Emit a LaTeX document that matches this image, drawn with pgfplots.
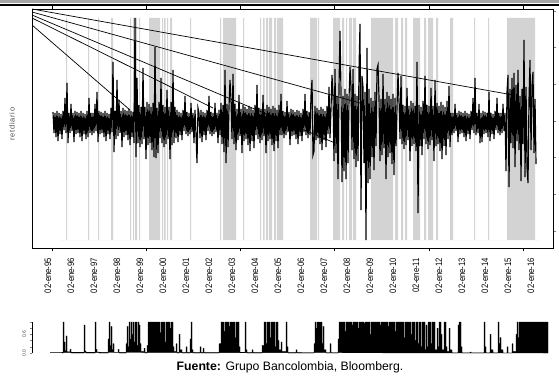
\documentclass[border=0pt]{standalone}
\usepackage{fontspec}
\setmainfont{Liberation Sans}
\newfontfamily\narrowfont[FakeStretch=0.82]{Liberation Sans}
\usepackage{pgfplots}
\pgfplotsset{compat=1.18}
\definecolor{shade}{RGB}{211,211,211}
\definecolor{topband}{RGB}{165,165,165}
\begin{document}
\begin{tikzpicture}[x=1bp,y=1bp]
\useasboundingbox (0,0) rectangle (559,381);
\fill[topband] (0,377.7) rectangle (559,381);
\draw[line width=1.7bp] (0,376.2) -- (559,376.2);
\begin{axis}[
  at={(32bp,133bp)}, anchor=south west, scale only axis,
  width=521bp, height=239bp,
  xmin=32, xmax=553, ymin=-127, ymax=112,
  axis line style={line width=0.8bp},
  clip mode=individual,
  xtick={48,71,...,531},
  xticklabels={02-ene-95,02-ene-96,02-ene-97,02-ene-98,02-ene-99,02-ene-00,02-ene-01,02-ene-02,02-ene-03,02-ene-04,02-ene-05,02-ene-06,02-ene-07,02-ene-08,02-ene-09,02-ene-10,02-ene-11,02-ene-12,02-ene-13,02-ene-14,02-ene-15,02-ene-16},
  xticklabel style={yshift=-3.5bp, rotate=90, anchor=east, font=\narrowfont\fontsize{9.4}{10}\selectfont},
  xtick style={draw=none},
  extra x ticks={52,146.2,240.4,334.6,428.8,523},
  extra x tick labels={,,,,,},
  extra x tick style={xtick style={draw=black, line width=0.6bp}, major tick length=3bp, tick align=outside},
  ytick={-110,-73.3,-36.7,0,36.7,73.3,110},
  yticklabels={,,,,,,},
  ytick pos=right,
  ytick style={line width=0.6bp},
  tick align=outside, major tick length=3bp,
]
\addplot[const plot, fill=shade, draw=none] coordinates {
(60,-119) (66,103) (67,-119) (88,103) (89,-119) (98,103) (99,-119) (111,103) (113,-119)
(130,103) (131,-119) (133,103) (134,-119) (135,103) (137,-119) (139,103) (140,-119)
(149,103) (160,-119) (162,103) (163,-119) (164,103) (165.5,-119) (167,103) (168,-119) (170,103) (172,-119)
(190,103) (191,-119) (220,103) (221,-119) (223,103) (236,-119) (243,103) (244,-119)
(260,103) (261,-119) (263,103) (264.5,-119) (266,103) (268,-119) (269,103) (272,-119) (274,103) (276,-119) (277,103) (283,-119)
(310,103) (317,-119) (318,103) (319,-119) (333,103) (340,-119) (342,103) (344,-119) (346,103) (347,-119) (349,103) (352,-119) (353,103) (356,-119)
(371,103) (393,-119) (395,103) (398,-119) (401,103) (403,-119) (405,103) (407,-119) (413,103) (420,-119)
(424,103) (426,-119) (428,103) (433,-119) (436,103) (438,-119) (450,103) (453,-119) (474,103) (475,-119) (488,103) (489,-119)
(507,103) (535,-119) (540,-119)
} -- cycle;
\addplot[black, line width=1.15bp] coordinates {
(53,9) (54,-12) (55,8) (56,-16) (57,10) (58,-20) (59,8) (60,-13) (61,7) (62,-18) (63,10) (64,-9) (65,23) (66,-12)
(67,38) (68,-22) (69,8) (70,-12) (71,17) (72,-10) (73,8) (74,-21) (75,10) (76,-13)
(77,9) (78,-12) (79,8) (80,-16) (81,10) (82,-20) (83,8) (84,-13) (85,7) (86,-18) (87,10) (88,-16) (89,23) (90,-12)
(91,8) (92,-14) (93,8) (94,-12) (95,17) (96,-10) (97,29) (98,-21) (99,10) (100,-13)
(101,9) (102,-12) (103,8) (104,-16) (105,10) (106,-20) (107,8) (108,-13) (109,7) (110,-18)
(111,13) (112,-11) (113,59) (114,-31) (115,10) (116,-18) (117,41) (118,-15) (119,21) (120,-12) (121,10) (122,-26)
(123,13) (124,-16) (125,11) (126,-14) (127,10) (128,-19) (129,12) (130,-24) (131,10) (132,-16) (133,9) (134,-22)
(135,103) (136,-36) (137,43) (138,-22) (139,16) (140,-26) (141,14) (142,-23) (143,53) (144,-18) (145,14) (146,-38)
(147,19) (148,-24) (149,17) (150,-22) (151,14) (152,-29) (153,18) (154,-36) (155,74) (156,-37) (157,13) (158,-32)
(159,19) (160,-17) (161,43) (162,-22) (163,16) (164,-26) (165,14) (166,-23) (167,31) (168,-18) (169,14) (170,-38)
(171,19) (172,-24) (173,51) (174,-22) (175,14)
(176,-17) (177,11) (178,-21) (179,9) (180,-14) (181,8) (182,-19) (183,11) (184,-10) (185,25) (186,-13) (187,9)
(188,-15) (189,8) (190,-13) (191,18) (192,-11) (193,8) (194,-22) (195,11) (196,-14) (197,-42) (198,13) (199,8)
(200,-17) (201,11) (202,-21) (203,9) (204,-14) (205,8) (206,-19) (207,11) (208,-10) (209,25) (210,-13) (211,9)
(212,-15) (213,8) (214,-13) (215,18) (216,-11) (217,8) (218,-22) (219,11) (220,-14)
(221,18) (222,-23) (223,16) (224,-31) (225,51) (226,-42) (227,17) (228,-26) (229,14) (230,41) (231,21) (232,-18)
(233,47) (234,-23) (235,17) (236,-29)
(237,12) (238,-19) (239,26) (240,-15) (241,12) (242,-32) (243,16) (244,-20) (245,14) (246,-18) (247,12) (248,-24)
(249,15) (250,-30) (251,13) (252,-20) (253,11) (254,-27) (255,16) (256,-14) (257,36) (258,-18) (259,13) (260,-22)
(261,12) (262,-19) (263,26) (264,-15) (265,12) (266,-32) (267,16) (268,-20) (269,14) (270,-18) (271,12) (272,-24)
(273,15) (274,-30) (275,13) (276,-20) (277,11) (278,-27) (279,16) (280,-14)
(281,27) (282,-14) (283,10) (284,-17) (285,9) (286,-14) (287,20) (288,-11) (289,9) (290,-24) (291,12) (292,-15)
(293,11) (294,-14) (295,9) (296,-18) (297,11) (298,-23) (299,10) (300,-15) (301,8) (302,-20) (303,12) (304,-11)
(305,27) (306,-14) (307,10) (308,-17) (309,9) (310,-14)
(311,25) (312,41) (313,-34) (314,-30) (315,15) (316,-19) (317,13) (318,-17) (319,11) (320,-23) (321,14) (322,-29)
(323,12) (324,-19) (325,10) (326,-26) (327,15) (328,-13) (329,34) (330,-17) (331,12) (332,46)
(333,25) (334,-40) (335,52) (336,-32) (337,25) (338,-58) (339,34) (340,90) (341,29) (342,-61) (343,25) (344,-50)
(345,32) (346,-58) (347,27) (348,-42) (349,23) (350,54) (351,34) (352,-29) (353,52) (354,-38) (355,27) (356,-46)
(357,25) (358,-40) (359,52) (360,97) (361,-89) (362,45) (363,34) (364,-42) (365,29) (366,-119) (367,73) (368,-62)
(369,32) (370,-58)
(371,23) (372,-36) (373,20) (374,-49) (375,29) (376,-25) (377,52) (378,56) (379,23) (380,-40) (381,22) (382,-34)
(383,47) (384,-27) (385,22) (386,-58) (387,29) (388,-36) (389,25) (390,-32) (391,22) (392,-43) (393,27) (394,-54)
(395,23)
(396,-25) (397,14) (398,48) (399,20) (400,-18) (401,45) (402,-23) (403,16) (404,-28) (405,15) (406,-24) (407,33)
(408,-19) (409,15) (410,-40) (411,20) (412,-25) (413,18) (414,-23) (415,15) (416,-30) (417,59) (418,-92) (419,16)
(420,-25) (421,14) (422,-34) (423,20) (424,-18) (425,45) (426,-23) (427,16) (428,-28) (429,15) (430,-24) (431,33)
(432,-19) (433,15) (434,-40) (435,41) (436,-25) (437,18) (438,-23) (439,15) (440,-30) (441,19) (442,-38) (443,16)
(444,-25) (445,14) (446,-34) (447,20) (448,-18) (449,35) (450,-26)
(451,8) (452,-14) (453,8) (454,-12) (455,17) (456,-10) (457,8) (458,-21) (459,10) (460,-13) (461,9) (462,-12)
(463,8) (464,-16) (465,10) (466,-20) (467,8) (468,-13) (469,7) (470,-18) (471,10) (472,-9) (473,23) (474,-12)
(475,43) (476,-14) (477,8) (478,-12) (479,17) (480,-22) (481,8) (482,-21) (483,10) (484,-13) (485,9) (486,-12)
(487,8) (488,-16) (489,29) (490,-20) (491,8) (492,-13) (493,7) (494,-18) (495,10) (496,-9) (497,23) (498,-12)
(499,8) (500,-14) (501,8) (502,-12) (503,17) (504,-10) (505,8)
(506,-50) (507,29) (508,46) (509,-66) (510,32) (511,-22) (512,43) (513,-27) (514,48) (515,-46) (516,36) (517,-20)
(518,51) (519,-29) (520,25) (521,-60) (522,32) (523,-23) (524,81) (525,-56) (526,34) (527,-47) (528,-62) (529,22)
(530,61) (531,-29) (532,36) (533,49) (534,-32) (535,22) (536,-43)
};
\addplot[black, line width=0.7bp] coordinates {(32,112) (513,26)};
\addplot[black, line width=0.7bp] coordinates {(32,109) (360,18)};
\addplot[black, line width=0.7bp] coordinates {(32,106) (335,-22)};
\addplot[black, line width=0.7bp] coordinates {(32,103) (213,13)};
\addplot[black, line width=0.7bp] coordinates {(32,96) (130,11)};
\end{axis}
\node[rotate=90, font=\addfontfeature{LetterSpace=10}\fontsize{7.5}{8}\selectfont, text=black!70] at (12,257) {retdiario};
\begin{axis}[
  at={(32bp,28bp)}, anchor=south west, scale only axis,
  width=516bp, height=31bp,
  xmin=32, xmax=548, ymin=0, ymax=1,
  axis x line=none, axis y line*=left,
  axis line style={line width=0.5bp, -},
  ytick={0,0.2,0.4,0.6,0.8,1},
  yticklabels={0.0,,,0.6,,},
  yticklabel style={rotate=90, font=\fontsize{5}{5}\selectfont, text=black!70},
  tick align=outside, major tick length=2.5bp, ytick style={line width=0.5bp},
  clip=false,
]
\addplot[const plot, fill=black, draw=black, line width=0.4bp] coordinates {
(50,0.02) (62,0) (63,1) (64,0.35) (65,0.08) (66,0.55) (67,0.04) (70,0.12) (71,0) (84,0.9) (85,0.06) (86,0)
(95,1) (96,0.12) (97,0.03) (99,0) (108,0.45) (109,1) (110,0.25) (111,0.85) (112,0.12) (113,0.3) (114,0.02) (118,0.12) (119,0)
(126,0.3) (127,0.85) (128,0.2) (129,1) (130,0.45) (131,1) (132,0.6) (133,1) (134,0.35) (135,1) (137,0.25) (138,1) (139,0.9) (140,0.3) (141,0.05)
(144,0.15) (145,0) (147,0.25) (148,1) (160,0.65) (161,1) (165,0.35) (166,1) (170,0.8) (171,1) (173,0.2) (174,0.05) (176,0.3) (177,0)
(179,0.6) (180,0.1) (182,0) (186,0.2) (187,0) (190,0.45) (191,1) (192,0.1) (193,0) (200,0.2) (201,0) (203,0.15) (204,0)
(219,0.3) (221,1) (224,0.7) (225,1) (229,0.85) (230,1) (235,0.5) (236,1) (239,0.2) (240,0.02) (245,1) (246,0.1) (247,0) (252,0.1) (253,0)
(262,0.25) (264,1) (266,0.3) (267,1) (270,0.5) (271,1) (275,0.2) (276,1) (278,0.4) (279,0.1) (281,0.35) (282,0.05) (286,1) (287,0.2) (288,0)
(296,0.1) (297,0) (314,0.3) (315,1) (316,0.8) (317,1) (322,0.3) (323,0.85) (324,0.1) (326,0) (330,0.3) (331,0)
(338,0.45) (339,1) (345,0.7) (346,1) (352,0.9) (353,1) (358,0.8) (359,1) (364,0.95) (365,1) (370,0.6) (371,1) (380,0.9) (381,1)
(388,0.85) (389,1) (395,0.7) (396,1) (404,0.5) (405,1) (411,0.6) (412,1) (415,0.4) (416,1) (418,0.3) (419,1) (421,0.2) (422,1)
(425,0.1) (426,0.9) (427,0.2) (428,1) (431,0.3) (432,1) (435,0.1) (437,0.8) (438,0.2) (439,1) (441,0.6) (442,0.1) (444,1) (446,0.2) (447,0.05)
(449,0.8) (450,0.1) (452,0) (458,0.9) (459,1) (461,0.2) (462,0) (470,0.03) (471,0) (484,1) (485,0.2) (486,0) (490,0.6) (491,0.1) (493,0)
(498,1) (499,0.3) (500,0.5) (501,0.1) (503,0) (507,0.2) (508,0) (512,0.3) (513,0.05) (516,0.6) (517,1) (518,0.5) (519,1) (548,0)
} -- cycle;
\end{axis}
\node[font=\fontsize{12.3}{14}\selectfont] at (290,14) {\textbf{Fuente:} Grupo Bancolombia, Bloomberg.};
\end{tikzpicture}
\end{document}
